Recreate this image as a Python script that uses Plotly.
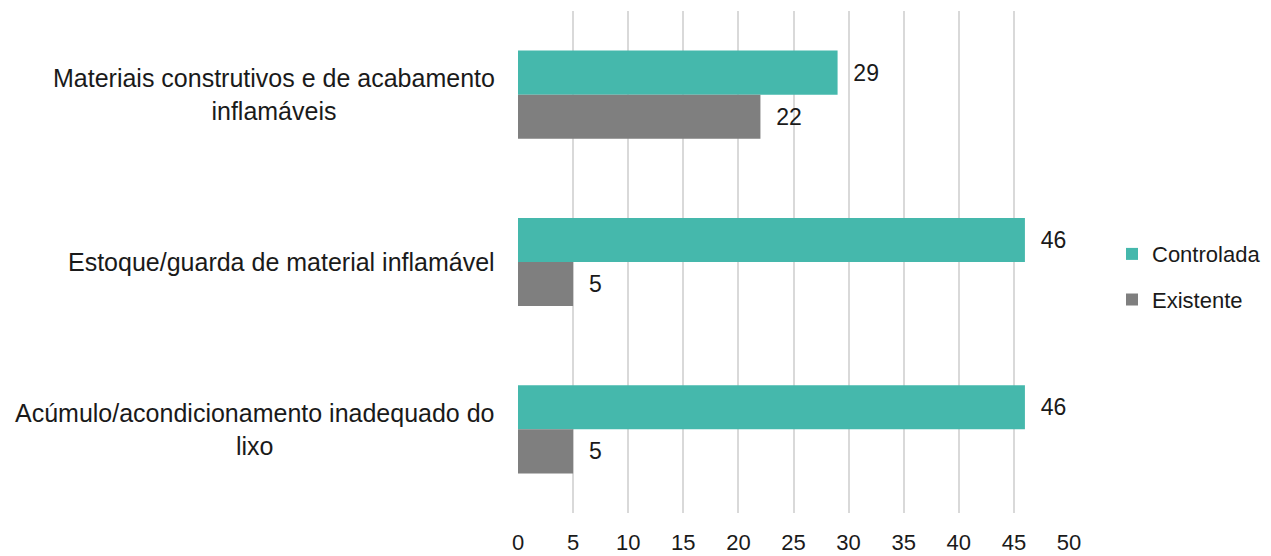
import plotly.graph_objects as go

categories = [
    "Materiais construtivos e de acabamento<br>inflamáveis",
    "Estoque/guarda de material inflamável",
    "Acúmulo/acondicionamento inadequado do<br>lixo",
]
cat_keys = ["Materiais", "Estoque", "Acúmulo"]
controlada = [29, 46, 46]
existente = [22, 5, 5]
x_ticks = [0, 5, 10, 15, 20, 25, 30, 35, 40, 45, 50]

FONT = "Liberation Sans, Arial, sans-serif"
TXT = "#1a1a1a"
PAD = "\u00a0\u00a0"

fig = go.Figure()
fig.add_trace(go.Bar(
    y=cat_keys, x=controlada, orientation="h", name="Controlada",
    marker=dict(color="#45B8AC", line=dict(width=0)),
    text=[PAD + str(v) for v in controlada],
    textposition="outside", textfont=dict(size=23, color=TXT, family=FONT),
    cliponaxis=False, legendgroup="a",
))
fig.add_trace(go.Bar(
    y=cat_keys, x=existente, orientation="h", name="Existente",
    marker=dict(color="#7F7F7F", line=dict(width=0)),
    text=[PAD + str(v) for v in existente],
    textposition="outside", textfont=dict(size=23, color=TXT, family=FONT),
    cliponaxis=False, legendgroup="b",
))

for key, label in zip(cat_keys, categories):
    fig.add_annotation(
        x=0, xref="paper", y=key, yref="y", text=label, showarrow=False,
        xanchor="right", yanchor="middle", align="center", xshift=-21,
        font=dict(size=25, color=TXT, family=FONT),
    )

fig.update_layout(
    width=1271, height=556,
    margin=dict(l=510, r=210, t=3, b=51, autoexpand=False),
    paper_bgcolor="white", plot_bgcolor="white",
    barmode="group", bargap=0.473, bargroupgap=0,
    font=dict(family=FONT, size=22, color=TXT),
    showlegend=True,
    legend=dict(
        xref="container", yref="container",
        x=1104 / 1271, xanchor="left", y=0.516, yanchor="middle",
        font=dict(size=22, color=TXT, family=FONT),
        tracegroupgap=14, itemwidth=30,
        bgcolor="rgba(0,0,0,0)",
    ),
    xaxis=dict(
        range=[0, 50], tickvals=x_ticks, ticktext=[str(t) for t in x_ticks],
        showgrid=True, gridcolor="#D9D9D9", gridwidth=1.5,
        zeroline=False, showline=False,
        ticks="outside", ticklen=10, tickcolor="rgba(0,0,0,0)",
        tickfont=dict(size=22, color=TXT, family=FONT),
    ),
    yaxis=dict(
        autorange="reversed", showticklabels=False, showgrid=False,
        zeroline=False, showline=False, ticks="",
    ),
)

fig.write_html("out.html")
